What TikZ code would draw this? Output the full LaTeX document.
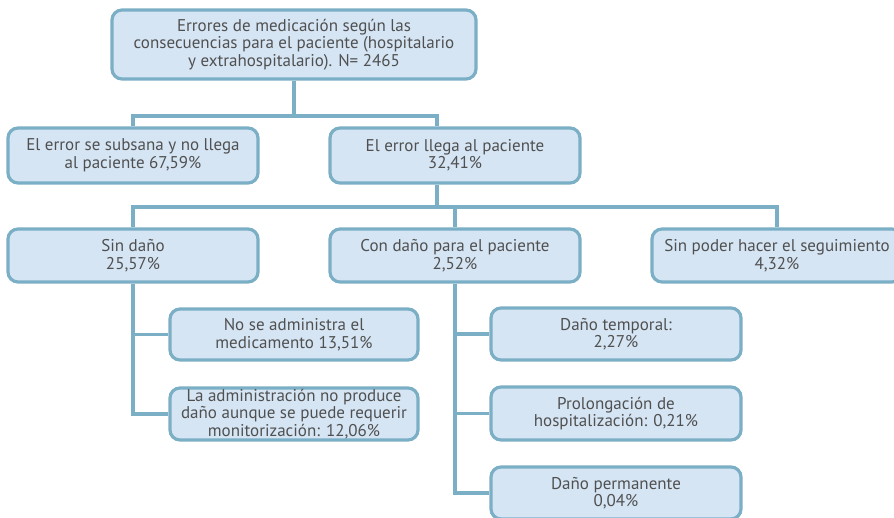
\documentclass[tikz,border=0pt]{standalone}
\usepackage{fontspec}
\setmainfont{PT Sans}
\usepackage{xcolor}
\usepackage{tikz}
\usetikzlibrary{positioning}
\definecolor{boxfill}{HTML}{D5E5F4}
\definecolor{boxline}{HTML}{7BAFC5}
\definecolor{boxtext}{HTML}{505050}
\tikzstyle{errbox} = [rectangle, rounded corners=10pt, minimum width=250pt, minimum height=53pt, align=center, draw=boxline, line width=3.2pt, fill=boxfill, text=boxtext, font=\fontsize{17}{17.5}\selectfont, inner sep=1pt]
\tikzstyle{conn} = [draw=boxline, line width=3.2pt]

\begin{document}
\begin{tikzpicture}[x=1pt, y=-1pt]
\useasboundingbox (0,0) rectangle (894,518);

\node (total) [errbox, minimum width=364pt, minimum height=69pt] at (294,44.5) {Errores de medicación según las\\consecuencias para el paciente (hospitalario\\y extrahospitalario). N= 2465};
\node (subsana) [errbox, minimum height=55pt] at (133,155.5) {El error se subsana y no llega\\al paciente 67,59\%};
\node (llega) [errbox, minimum height=55pt] at (455,155.5) {El error llega al paciente\\32,41\%};
\node (sindano) [errbox] at (133,255.5) {Sin daño\\25,57\%};
\node (condano) [errbox] at (455,255.5) {Con daño para el paciente\\2,52\%};
\node (sinpoder) [errbox] at (777,255.5) {Sin poder hacer el seguimiento\\4,32\%};
\node (noadmin) [errbox, minimum width=248pt, minimum height=51pt] at (294,334.5) {No se administra el\\medicamento 13,51\%};
\node (admin) [errbox, minimum width=248pt, minimum height=52pt] at (294,414) {La administración no produce\\daño aunque se puede requerir\\monitorización: 12,06\%};
\node (temporal) [errbox, minimum height=52pt] at (616,334) {Daño temporal:\\2,27\%};
\node (prolonga) [errbox] at (616,413.5) {Prolongación de\\hospitalización: 0,21\%};
\node (permanente) [errbox, minimum height=52pt] at (616,493) {Daño permanente\\0,04\%};

\coordinate (busA) at (0,116);
\coordinate (busB) at (0,207);

\draw [conn] (total.south) -- (total.south |- busA);
\draw [conn] (subsana.north) |- ([xshift=-18pt]llega.north |- busA) -- ([xshift=-18pt]llega.north);
\draw [conn] ([xshift=-18pt]llega.south) -- ([xshift=-18pt]llega.south |- busB);
\draw [conn] (sindano.north) |- (sinpoder.north |- busB) -- (sinpoder.north);
\draw [conn] (condano.north) -- (condano.north |- busB);
\draw [conn] (sindano.south) |- (admin.west);
\draw [conn] (sindano.south |- noadmin.west) -- (noadmin.west);
\draw [conn] (condano.south) |- (permanente.west);
\draw [conn] (condano.south |- temporal.west) -- (temporal.west);
\draw [conn] (condano.south |- prolonga.west) -- (prolonga.west);

\end{tikzpicture}
\end{document}
